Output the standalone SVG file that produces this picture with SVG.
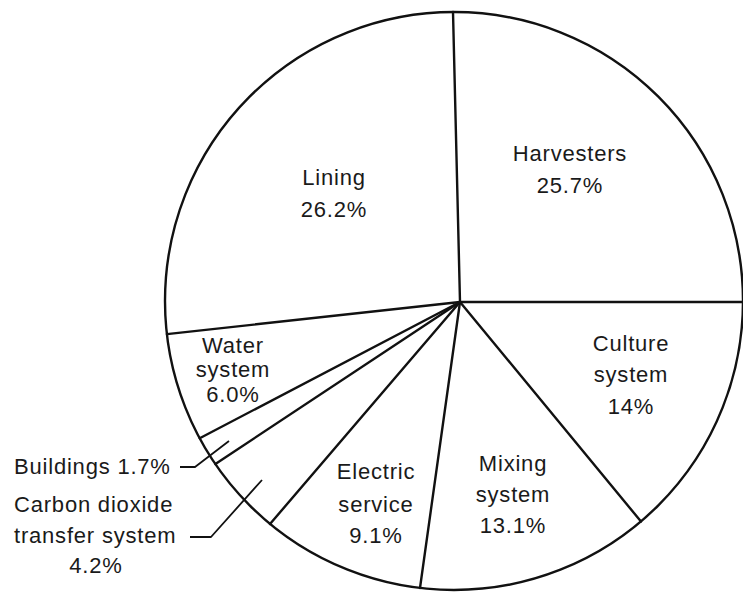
<svg xmlns="http://www.w3.org/2000/svg" width="743" height="595" viewBox="0 0 743 595">
<style>
.ln{fill:none;stroke:#111;stroke-width:2.4;stroke-linecap:round;stroke-linejoin:round}
.ld{fill:none;stroke:#111;stroke-width:1.8;stroke-linecap:butt;stroke-linejoin:round}
text{font-family:"Liberation Sans",Arial,Helvetica,sans-serif;font-size:22px;letter-spacing:0.8px;fill:#1a1a1a}
.c{text-anchor:middle}
</style>
<rect width="743" height="595" fill="#fff"/>
<g id="pie">
<circle cx="454" cy="301" r="289" class="ln"/>
</g>
<g id="connectors">
<line class="ln" x1="460" y1="302" x2="453" y2="12"/>
<line class="ln" x1="460" y1="302" x2="743" y2="302"/>
<line class="ln" x1="460" y1="302" x2="641" y2="521.5"/>
<line class="ln" x1="460" y1="302" x2="420" y2="588"/>
<line class="ln" x1="460" y1="302" x2="270" y2="524"/>
<line class="ln" x1="460" y1="302" x2="215.4" y2="464"/>
<line class="ln" x1="460" y1="302" x2="199.7" y2="438.2"/>
<line class="ln" x1="460" y1="302" x2="166.9" y2="334.1"/>
<path class="ld" d="M180,467 L195,467 L229,441"/>
<path class="ld" d="M190,537 L211,537 L262,480"/>
</g>
<g id="lining">
<text class="c" x="334" y="185">Lining</text>
<text class="c" x="334" y="217">26.2%</text>
</g>
<g id="harvesters">
<text class="c" x="570" y="161">Harvesters</text>
<text class="c" x="570" y="193">25.7%</text>
</g>
<g id="culture">
<text class="c" x="631" y="351">Culture</text>
<text class="c" x="631" y="382">system</text>
<text class="c" x="631" y="414">14%</text>
</g>
<g id="mixing">
<text class="c" x="513" y="471">Mixing</text>
<text class="c" x="513" y="502">system</text>
<text class="c" x="513" y="533">13.1%</text>
</g>
<g id="electric">
<text class="c" x="376" y="479">Electric</text>
<text class="c" x="376" y="512">service</text>
<text class="c" x="376" y="543">9.1%</text>
</g>
<g id="water">
<text class="c" x="233" y="353">Water</text>
<text class="c" x="233" y="377">system</text>
<text class="c" x="233" y="402">6.0%</text>
</g>
<g id="buildings">
<text x="14" y="474">Buildings 1.7%</text>
</g>
<g id="co2">
<text x="14" y="512">Carbon dioxide</text>
<text x="14" y="543">transfer system</text>
<text class="c" x="96" y="573">4.2%</text>
</g>
</svg>
